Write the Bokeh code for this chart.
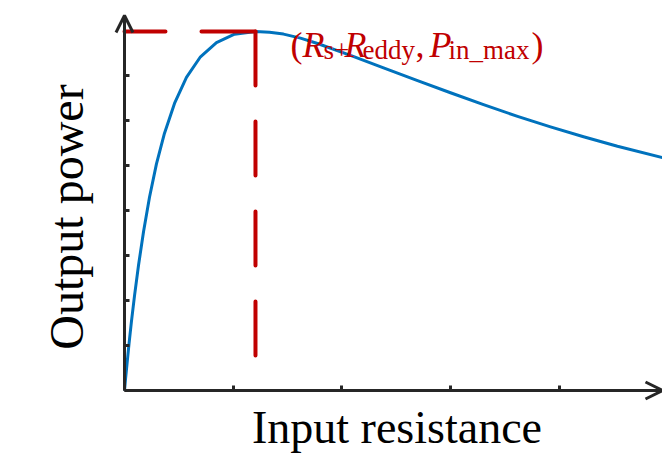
from bokeh.plotting import figure
from bokeh.models import Range1d, FixedTicker, Arrow, OpenHead, Label
from bokeh.core.properties import value
from bokeh.embed import file_html
from bokeh.resources import INLINE

# ---- data ----
resistance = [0.000, 0.009, 0.023, 0.041, 0.064, 0.092, 0.129, 0.175, 0.230, 0.294,
              0.368, 0.460, 0.570, 0.699, 0.846, 1.012, 1.205, 1.334, 1.463, 1.619,
              1.776, 2.079, 2.383, 2.696, 2.999, 3.303, 3.616, 3.919, 4.223, 4.535,
              4.949]
power = [0.000, 0.240, 0.587, 1.024, 1.536, 2.102, 2.784, 3.529, 4.293, 5.036,
         5.718, 6.380, 6.958, 7.416, 7.733, 7.918, 7.978, 7.960, 7.920, 7.831,
         7.711, 7.447, 7.171, 6.888, 6.616, 6.351, 6.093, 5.858, 5.638, 5.427,
         5.176]
x_ticks = [1, 2, 3, 4]
y_ticks = [1, 2, 3, 4, 5, 6, 7]
x_label = "Input resistance"
y_label = "Output power"
note_parts = [("(", "normal", "main"), ("R", "italic", "main"), ("s+", "normal", "sub"),
              ("R", "italic", "main"), ("eddy", "normal", "sub"), (",", "normal", "main"),
              ("P", "italic", "main"), ("in_max", "normal", "sub"), (")", "normal", "main")]

BLUE = "#0072BD"
RED = "#C00000"
AX = "#262626"
SERIF = "Liberation Serif"

# ---- layout geometry (pixels) ----
W, H = 662, 456
BORDER_L, BORDER_B = 10, 0
ORIGIN_PX = (124, 390)
X_UNIT, Y_UNIT = 108.7, 45.0
X_MAX = (W - ORIGIN_PX[0]) / X_UNIT
Y_MAX = (ORIGIN_PX[1] - 15) / Y_UNIT


def dx(px):
    return (px - ORIGIN_PX[0]) / X_UNIT


def dy(py):
    return (ORIGIN_PX[1] - py) / Y_UNIT


p = figure(width=W, height=H, output_backend="svg", toolbar_location=None,
           x_range=Range1d(dx(BORDER_L), X_MAX), y_range=Range1d(dy(H - BORDER_B), dy(0)),
           min_border_left=BORDER_L, min_border_right=0, min_border_top=0,
           min_border_bottom=BORDER_B)
p.outline_line_color = None
p.grid.visible = False
p.background_fill_color = "white"
p.border_fill_color = "white"

for ax, ticks, bnd in ((p.xaxis[0], x_ticks, X_MAX), (p.yaxis[0], y_ticks, Y_MAX)):
    ax.fixed_location = 0
    ax.bounds = (0, bnd)
    ax.ticker = FixedTicker(ticks=ticks)
    ax.major_label_overrides = {t: "" for t in ticks}
    ax.major_label_text_font_size = "0px"
    ax.major_label_standoff = 0
    ax.minor_tick_line_color = None
    ax.major_tick_in = 5
    ax.major_tick_out = 0
    ax.major_tick_line_width = 3
    ax.major_tick_line_color = AX
    ax.axis_line_width = 3
    ax.axis_line_color = AX

# axis titles
p.add_layout(Label(x=dx(396.5), y=dy(427), text=x_label,
                   text_font=SERIF, text_font_size="46px", text_color="black",
                   text_align="center", text_baseline="alphabetic"))
p.add_layout(Label(x=dx(66), y=dy(216.5), text=y_label, angle=1.5708,
                   text_font=SERIF, text_font_size="48px", text_color="black",
                   text_align="center", text_baseline="alphabetic"))

# axis arrow heads
p.add_layout(Arrow(end=OpenHead(size=17, line_color=AX, line_width=3),
                   x_start=0, y_start=0, x_end=0, y_end=Y_MAX,
                   line_color=AX, line_width=3))
p.add_layout(Arrow(end=OpenHead(size=17, line_color=AX, line_width=3),
                   x_start=0, y_start=0, x_end=X_MAX, y_end=0,
                   line_color=AX, line_width=3))

# curve
p.line(resistance, power, line_color=BLUE, line_width=3, line_join="round")

# dashed guide lines from the maximum
i_max = power.index(max(power))
r_pk, p_pk = resistance[i_max], power[i_max]
p.multi_line(xs=[[r_pk, 0], [r_pk, r_pk]], ys=[[p_pk, p_pk], [p_pk, 0]],
             line_color=RED, line_width=4, line_dash="54 36", line_cap="round")

# annotation text, pieces placed left to right (pixel offsets from the maximum)
offsets = [35, 47, 68, 89, 107, 160, 174, 193, 276]
for (txt, style, role), off in zip(note_parts, offsets):
    p.text(x=[r_pk], y=[p_pk], text=[txt], x_offset=off,
           y_offset=14 if role == "main" else 19,
           text_font=value(SERIF), text_font_style=style,
           text_font_size="36px" if role == "main" else "27px",
           text_color=RED, text_align="left", text_baseline="alphabetic")

open("out.html", "w").write(file_html(p, INLINE))
